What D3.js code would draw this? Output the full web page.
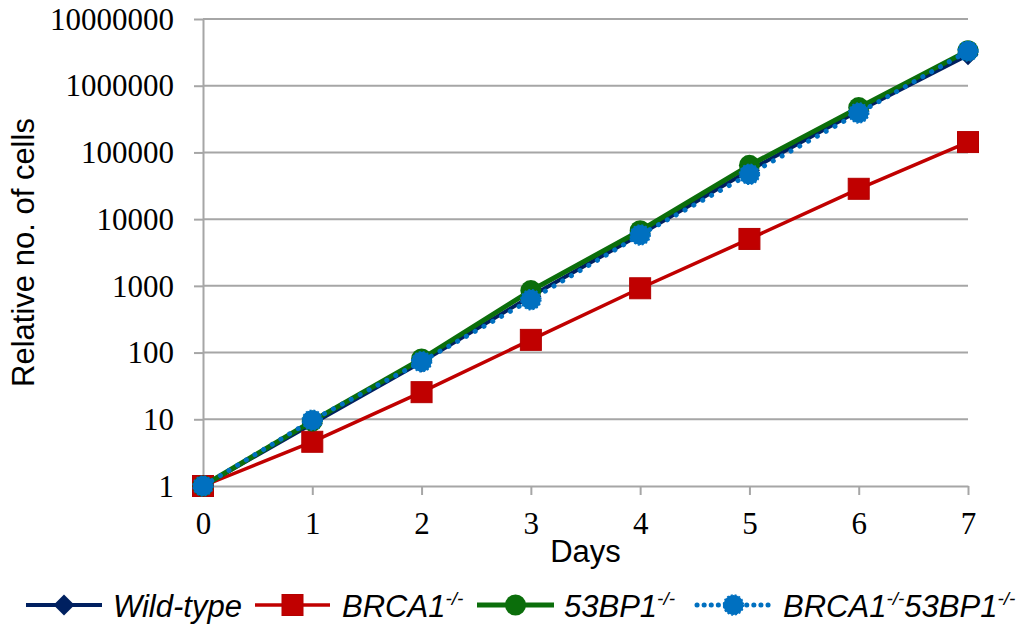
<!DOCTYPE html>
<html>
<head>
<meta charset="utf-8">
<script src="https://cdnjs.cloudflare.com/ajax/libs/d3/7.8.5/d3.min.js"></script>
<style>
  body { margin: 0; background: #fff; }
  svg { display: block; }
  .tick-label { font-family: "Liberation Serif", "Times New Roman", serif; font-size: 31px; fill: #000; }
  .axis-title { font-family: "Liberation Sans", Arial, sans-serif; font-size: 31px; fill: #000; }
  .legend-text { font-family: "Liberation Sans", Arial, sans-serif; font-size: 31px; font-style: italic; fill: #000; }
</style>
</head>
<body>
<div id="chart"></div>
<script>
// days on the x axis
var days = [0, 1, 2, 3, 4, 5, 6, 7];
var yTicks = [1, 10, 100, 1000, 10000, 100000, 1000000, 10000000];

// relative no. of cells
var wildType   = [1, 8.6, 72, 700, 5900, 54000, 420000, 2900000];
var brca1      = [1, 4.6, 25.5, 155, 920, 5050, 28500, 143000];
var bp53       = [1, 9.4, 80, 850, 6700, 64000, 470000, 3350000];
var brca1bp53  = [1, 9.7, 73, 620, 5800, 47000, 390000, 3300000];

(function() {
  var series = [
    {name: "Wild-type", sup: "", values: wildType, color: "#002060", width: 4, marker: "diamond", dash: null},
    {name: "BRCA1", sup: "-/-", values: brca1, color: "#c00000", width: 3.5, marker: "square", dash: null},
    {name: "53BP1", sup: "-/-", values: bp53, color: "#0b6e0b", width: 5, marker: "circle", dash: null},
    {name: "BRCA1", sup: "-/-", name2: "53BP1", sup2: "-/-", values: brca1bp53, color: "#0070c0", width: 5, marker: "circle", dash: "0.1,10"}
  ];

  var W = 1030, H = 630;
  var mLeft = 203, mRight = 968, mTop = 19, mBottom = 486;

  var svg = d3.select("#chart").append("svg")
      .attr("width", W)
      .attr("height", H);

  var x = d3.scaleLinear().domain([0, 7]).range([mLeft, mRight]);
  var y = d3.scaleLog().domain([1, 10000000]).range([mBottom, mTop]);

  var grid = "#a6a6a6";

  // horizontal gridlines
  svg.append("g").selectAll("line")
      .data(yTicks.slice(1))
    .enter().append("line")
      .attr("x1", mLeft).attr("x2", mRight)
      .attr("y1", function(d) { return y(d); })
      .attr("y2", function(d) { return y(d); })
      .attr("stroke", grid)
      .attr("stroke-width", 2);

  // y axis
  var yAxis = svg.append("g")
      .attr("transform", "translate(" + mLeft + ",0)")
      .call(d3.axisLeft(y).tickValues(yTicks).tickFormat(d3.format("d")).tickSizeInner(9).tickSizeOuter(0).tickPadding(20));
  yAxis.select(".domain").attr("stroke", grid).attr("stroke-width", 2);
  yAxis.selectAll(".tick line").attr("stroke", grid).attr("stroke-width", 2);
  yAxis.selectAll(".tick text")
      .attr("class", "tick-label")
      .attr("dy", "0.33em");
  yAxis.attr("font-family", null).attr("font-size", null);

  // x axis
  var xAxis = svg.append("g")
      .attr("transform", "translate(0," + mBottom + ")")
      .call(d3.axisBottom(x).tickValues(days).tickFormat(d3.format("d")).tickSizeInner(9).tickSizeOuter(0).tickPadding(17));
  xAxis.select(".domain").attr("stroke", grid).attr("stroke-width", 2);
  xAxis.selectAll(".tick line").attr("stroke", grid).attr("stroke-width", 2);
  xAxis.selectAll(".tick text")
      .attr("class", "tick-label")
      .attr("dy", "0.71em");
  xAxis.attr("font-family", null).attr("font-size", null);

  // axis titles
  svg.append("text")
      .attr("class", "axis-title")
      .attr("x", (mLeft + mRight) / 2)
      .attr("y", 562)
      .attr("text-anchor", "middle")
      .text("Days");

  svg.append("text")
      .attr("class", "axis-title")
      .attr("transform", "translate(34," + (mTop + mBottom) / 2 + ") rotate(-90)")
      .attr("text-anchor", "middle")
      .text("Relative no. of cells");

  var line = d3.line()
      .x(function(d, i) { return x(days[i]); })
      .y(function(d) { return y(d); });

  function drawMarker(sel, s, cx, cy) {
    if (s.marker === "diamond") {
      sel.append("path")
        .attr("d", "M" + cx + "," + (cy - 10.5) + "L" + (cx + 10.5) + "," + cy + "L" + cx + "," + (cy + 10.5) + "L" + (cx - 10.5) + "," + cy + "Z")
        .attr("fill", s.color);
    } else if (s.marker === "square") {
      sel.append("rect")
        .attr("x", cx - 10.5).attr("y", cy - 10.5)
        .attr("width", 21).attr("height", 21)
        .attr("fill", s.color)
        .attr("stroke", "#b40000").attr("stroke-width", 1);
    } else {
      var c = sel.append("circle")
        .attr("cx", cx).attr("cy", cy)
        .attr("r", s.dash ? 10 : 10.5)
        .attr("fill", s.color);
      if (s.dash) c.attr("stroke", s.color).attr("stroke-width", 1.5).attr("stroke-dasharray", "2,2");
    }
  }

  // series lines and markers
  series.forEach(function(s) {
    var g = svg.append("g");
    var p = g.append("path")
      .datum(s.values)
      .attr("d", line)
      .attr("fill", "none")
      .attr("stroke", s.color)
      .attr("stroke-width", s.width);
    if (s.dash) p.attr("stroke-dasharray", s.dash).attr("stroke-linecap", "round");
    s.values.forEach(function(v, i) {
      drawMarker(g, s, x(days[i]), y(v));
    });
  });

  // legend
  var legendY = 605;
  var legendPos = [
    {x1: 26, x2: 102, tx: 113},
    {x1: 255, x2: 330, tx: 342},
    {x1: 477, x2: 554, tx: 564},
    {x1: 697, x2: 770, tx: 783}
  ];
  series.forEach(function(s, i) {
    var pos = legendPos[i];
    var g = svg.append("g");
    var l = g.append("line")
      .attr("x1", pos.x1).attr("x2", pos.x2)
      .attr("y1", legendY).attr("y2", legendY)
      .attr("stroke", s.color)
      .attr("stroke-width", s.width);
    if (s.dash) l.attr("stroke-dasharray", "0.1,7").attr("stroke-linecap", "round");
    drawMarker(g, s, (pos.x1 + pos.x2) / 2, legendY);
    var t = g.append("text")
      .attr("class", "legend-text")
      .attr("x", pos.tx)
      .attr("y", 617);
    t.append("tspan").text(s.name);
    if (s.sup) t.append("tspan").attr("font-size", "19px").attr("dy", "-12").text(s.sup);
    if (s.name2) {
      t.append("tspan").attr("dy", "12").text(s.name2);
      t.append("tspan").attr("font-size", "19px").attr("dy", "-12").text(s.sup2);
    }
  });
})();
</script>
</body>
</html>
